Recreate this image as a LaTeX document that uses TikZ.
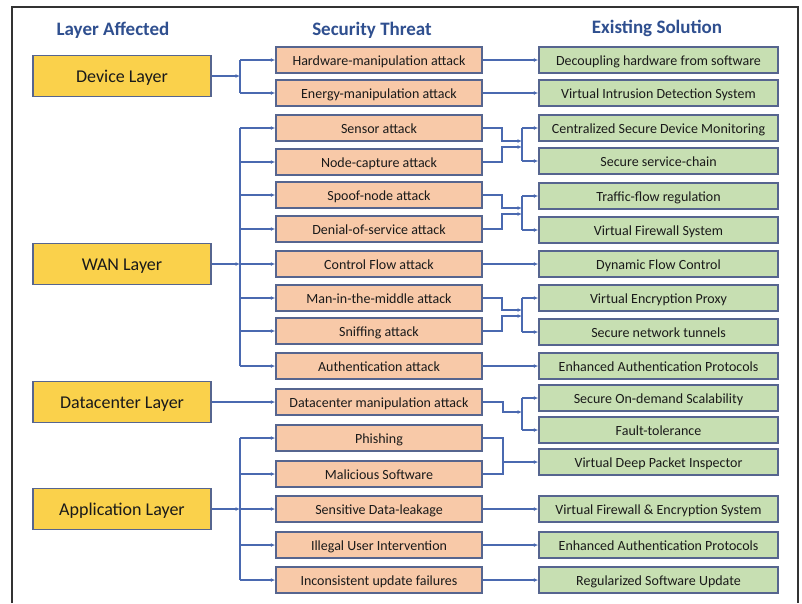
\documentclass[tikz,border=0pt]{standalone}
\usepackage{fontspec}
\setmainfont{Carlito}
\usetikzlibrary{arrows.meta,calc}

\definecolor{hdr}{HTML}{2F4F8F}
\definecolor{wirec}{HTML}{4A69B0}
\definecolor{edgec}{HTML}{56658F}
\definecolor{layerfill}{HTML}{FAD14B}
\definecolor{threatfill}{HTML}{F8C9A8}
\definecolor{solfill}{HTML}{C7DFB2}
\definecolor{txt}{HTML}{1A1A1A}

\begin{document}
\begin{tikzpicture}[x=1pt,y=-1pt,
  boxtext/.style={inner sep=0pt, text=txt, text depth=0pt},
  layerbox/.style={boxtext, text height=13pt, draw=edgec, line width=1.6pt, fill=layerfill,
    minimum width=178pt, minimum height=41pt, font=\fontsize{18}{20}\selectfont},
  threatbox/.style={boxtext, text height=10pt, draw=edgec, line width=1.5pt, fill=threatfill,
    minimum width=206pt, minimum height=26pt, font=\fontsize{14}{16}\selectfont},
  solbox/.style={boxtext, text height=10pt, draw=edgec, line width=1.5pt, fill=solfill,
    minimum width=239pt, minimum height=26pt, font=\fontsize{14}{16}\selectfont},
  hdrtext/.style={text=hdr, font=\fontsize{19}{22}\selectfont\bfseries},
  wire/.style={draw=wirec, line width=1.2pt},
  arr/.style={wire, -{Latex[length=4.5pt,width=4pt]}},
  framec/.style={draw=black!80, line width=1.4pt}]

% canvas and outer frame
\useasboundingbox (0,0) rectangle (802,603);
\fill[white] (0,0) rectangle (802,603);
\draw[framec] (12,603) -- (12,7) -- (798,7) -- (798,603);

% column headings
\node[hdrtext] (h1) at (113,30) {Layer Affected};
\node[hdrtext] (h2) at (372,30) {Security Threat};
\node[hdrtext] (h3) at (657,28) {Existing Solution};

% layers
\node[layerbox] (L1) at (122,76)  {Device Layer};
\node[layerbox] (L2) at (122,264) {WAN Layer};
\node[layerbox] (L3) at (122,402) {Datacenter Layer};
\node[layerbox] (L4) at (122,509) {Application Layer};

% threats
\node[threatbox] (t1)  at (379,60)  {Hardware-manipulation attack};
\node[threatbox] (t2)  at (379,93)  {Energy-manipulation attack};
\node[threatbox] (t3)  at (379,128) {Sensor attack};
\node[threatbox] (t4)  at (379,162) {Node-capture attack};
\node[threatbox] (t5)  at (379,195) {Spoof-node attack};
\node[threatbox] (t6)  at (379,229) {Denial-of-service attack};
\node[threatbox] (t7)  at (379,264) {Control Flow attack};
\node[threatbox] (t8)  at (379,298) {Man-in-the-middle attack};
\node[threatbox] (t9)  at (379,331) {Sniffing attack};
\node[threatbox] (t10) at (379,366) {Authentication attack};
\node[threatbox] (t11) at (379,402) {Datacenter manipulation attack};
\node[threatbox] (t12) at (379,438) {Phishing};
\node[threatbox] (t13) at (379,474) {Malicious Software};
\node[threatbox] (t14) at (379,509) {Sensitive Data-leakage};
\node[threatbox] (t15) at (379,545) {Illegal User Intervention};
\node[threatbox] (t16) at (379,580) {Inconsistent update failures};

% solutions
\node[solbox] (s1)  at (658.5,60)  {Decoupling hardware from software};
\node[solbox] (s2)  at (658.5,93)  {Virtual Intrusion Detection System};
\node[solbox] (s3)  at (658.5,128) {Centralized Secure Device Monitoring};
\node[solbox] (s4)  at (658.5,161) {Secure service-chain};
\node[solbox] (s5)  at (658.5,196) {Traffic-flow regulation};
\node[solbox] (s6)  at (658.5,230) {Virtual Firewall System};
\node[solbox] (s7)  at (658.5,264) {Dynamic Flow Control};
\node[solbox] (s8)  at (658.5,298) {Virtual Encryption Proxy};
\node[solbox] (s9)  at (658.5,332) {Secure network tunnels};
\node[solbox] (s10) at (658.5,366) {Enhanced Authentication Protocols};
\node[solbox] (s11) at (658.5,398) {Secure On-demand Scalability};
\node[solbox] (s12) at (658.5,430) {Fault-tolerance};
\node[solbox] (s13) at (658.5,462) {Virtual Deep Packet Inspector};
\node[solbox] (s14) at (658.5,509) {Virtual Firewall \& Encryption System};
\node[solbox] (s15) at (658.5,545) {Enhanced Authentication Protocols};
\node[solbox] (s16) at (658.5,580) {Regularized Software Update};

% left-hand distribution bus
\coordinate (busL) at (240,0);

\draw[arr] (L1.east) -- (L1.east -| busL);
\draw[wire] (t1.west -| busL) -- (t2.west -| busL);
\foreach \t in {t1,t2} \draw[arr] (\t.west -| busL) -- (\t.west);

\draw[arr] (L2.east) -- (L2.east -| busL);
\draw[wire] (t3.west -| busL) -- (t10.west -| busL);
\foreach \t in {t3,t4,t5,t6,t7,t8,t9,t10} \draw[arr] (\t.west -| busL) -- (\t.west);

\draw[arr] (L3.east) -- (t11.west);

\draw[arr] (L4.east) -- (L4.east -| busL);
\draw[wire] (t12.west -| busL) -- (t16.west -| busL);
\foreach \t in {t12,t13,t14,t15,t16} \draw[arr] (\t.west -| busL) -- (\t.west);

% one-to-one threat/solution links
\foreach \i in {1,2,7,10,14,15,16} \draw[arr] (t\i.east) -- (s\i.west);

% paired threats merged into a shared bus, then split to two solutions
\coordinate (jA) at (522,144);
\coordinate (jB) at (522,211);
\coordinate (jC) at (522,313);
\coordinate (jD) at (522,412);

\foreach \j/\a/\b/\p/\q in {jA/t3/t4/s3/s4, jB/t5/t6/s5/s6, jC/t8/t9/s8/s9} {
  \draw[arr] (\a.east) -| ($(\j)+(-20,-3)$) -- ($(\j)+(0,-3)$);
  \draw[arr] (\b.east) -| ($(\j)+(-20,3)$) -- ($(\j)+(0,3)$);
  \draw[wire] (\j |- \p.west) -- (\j |- \q.west);
  \draw[arr] (\j |- \p.west) -- (\p.west);
  \draw[arr] (\j |- \q.west) -- (\q.west);
}

\draw[arr] (t11.east) -| ($(jD)+(-19,0)$) -- (jD);
\draw[wire] (jD |- s11.west) -- (jD |- s12.west);
\draw[arr] (jD |- s11.west) -- (s11.west);
\draw[arr] (jD |- s12.west) -- (s12.west);

% phishing and malware joined toward one solution
\coordinate (jE) at (503,462);
\draw[wire] (t12.east) -- (t12.east -| jE) -- (t13.east -| jE) -- (t13.east);
\draw[arr] (jE) -- (s13.west);

\end{tikzpicture}
\end{document}
